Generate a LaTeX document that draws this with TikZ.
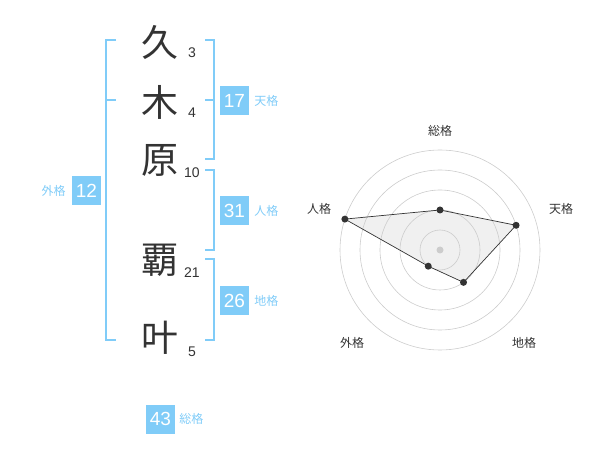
\documentclass[tikz,border=0pt]{standalone}
\usepackage{fontspec}
\setmainfont{Liberation Sans}
\newfontfamily\jp{Noto Sans CJK JP}
\usetikzlibrary{positioning,calc}
\definecolor{kaku}{HTML}{80CCF8}
\definecolor{ink}{HTML}{333333}

\begin{document}
\begin{tikzpicture} [
    x=1pt, y=-1pt,
    kanji/.style={font=\jp\fontsize{37}{37}\selectfont, text=ink, inner sep=0pt},
    strokes/.style={font=\fontsize{14}{14}\selectfont, text=ink, inner sep=0pt},
    score/.style={rectangle, fill=kaku, text=white, minimum size=29pt, inner sep=0pt, font=\fontsize{19}{19}\selectfont},
    kakuname/.style={font=\jp\fontsize{12}{12}\selectfont, text=kaku, inner sep=0pt},
    brace/.style={draw=kaku, line width=2pt},
    ring/.style={draw=black!20, line width=0.6pt},
    pt/.style={circle, fill=ink, inner sep=0pt, minimum size=7pt},
    axis/.style={font=\jp\fontsize{12}{12}\selectfont, text=ink, inner sep=0pt}
    ]
    \useasboundingbox (0,0) rectangle (600,470);

    %Nodes
    \node[kanji]     (k1)      at (160,42)  {久};
    \node[kanji]     (k2)      at (160,102) {木};
    \node[kanji]     (k3)      at (160,160) {原};
    \node[kanji]     (k4)      at (160,260) {覇};
    \node[kanji]     (k5)      at (160,338) {叶};
    \node[strokes]   (n1)      at (192,53)  {3};
    \node[strokes]   (n2)      at (192,113) {4};
    \node[strokes]   (n3)      at (192,173) {10};
    \node[strokes]   (n4)      at (192,273) {21};
    \node[strokes]   (n5)      at (192,352) {5};

    \node[score]     (ten)     at (234.5,100.5) {17};
    \node[kakuname]  (tenl)    [right=5pt of ten] {天格};
    \node[score]     (jin)     at (234.5,210.5) {31};
    \node[kakuname]  (jinl)    [right=5pt of jin] {人格};
    \node[score]     (chi)     at (234.5,300.5) {26};
    \node[kakuname]  (chil)    [right=5pt of chi] {地格};
    \node[score]     (gai)     at (86.5,190.5)  {12};
    \node[kakuname]  (gail)    [left=6pt of gai] {外格};
    \node[score]     (sou)     at (160.5,419)   {43};
    \node[kakuname]  (soul)    [right=4pt of sou] {総格};

    %Lines
    \draw[brace] (116,40) -- (106,40) -- (106,340) -- (116,340);
    \draw[brace] (106,100) -- (116,100);
    \draw[brace] (205,40) -- (214,40) -- (214,159) -- (205,159);
    \draw[brace] (205,100) -- (214,100);
    \draw[brace] (205,170) -- (214,170) -- (214,250) -- (205,250);
    \draw[brace] (205,259) -- (214,259) -- (214,340) -- (205,340);

    %Radar
    \coordinate (c) at (440,250);
    \coordinate (rsou) at ($(c)+(-90:40)$);
    \coordinate (rten) at ($(c)+(-18:80)$);
    \coordinate (rchi) at ($(c)+(54:40)$);
    \coordinate (rgai) at ($(c)+(126:20)$);
    \coordinate (rjin) at ($(c)+(198:100)$);
    \fill[black!6] (rsou) -- (rten) -- (rchi) -- (rgai) -- (rjin) -- cycle;

    \draw[ring] (c) circle[radius=20];
    \draw[ring] (c) circle[radius=40];
    \draw[ring] (c) circle[radius=60];
    \draw[ring] (c) circle[radius=80];
    \draw[ring] (c) circle[radius=100];
    \fill[black!20] (c) circle[radius=3.5];

    \draw[ink, line width=0.7pt] (rsou) -- (rten) -- (rchi) -- (rgai) -- (rjin) -- cycle;
    \node[pt] (dsou) at (rsou) {};
    \node[pt] (dten) at (rten) {};
    \node[pt] (dchi) at (rchi) {};
    \node[pt] (dgai) at (rgai) {};
    \node[pt] (djin) at (rjin) {};

    \node[axis] (asou) at (440,131) {総格};
    \node[axis] (aten) at (561,209) {天格};
    \node[axis] (ajin) at (319,209) {人格};
    \node[axis] (agai) at (352,343) {外格};
    \node[axis] (achi) at (524,343) {地格};
\end{tikzpicture}
\end{document}
